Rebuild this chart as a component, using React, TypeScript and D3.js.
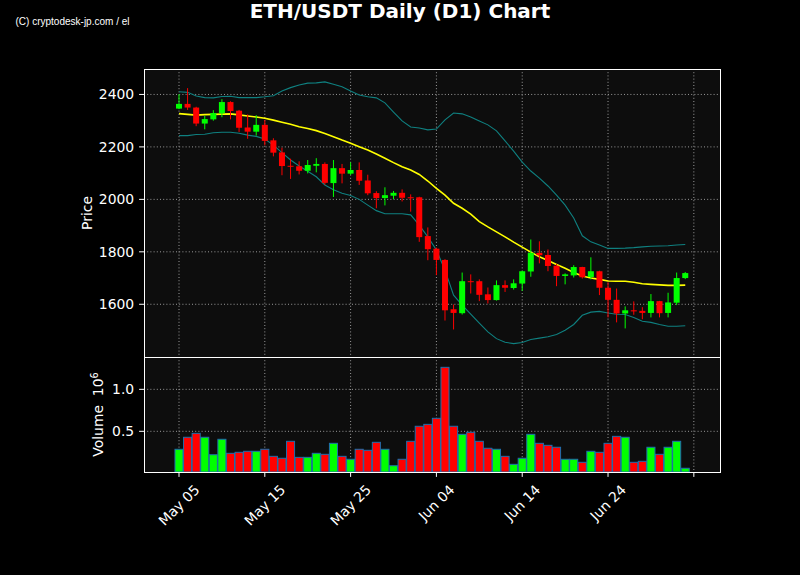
import { useEffect, useRef } from 'react';
import * as d3 from 'd3';

// 일봉 데이터 (May 05 부터 60일)
const opens = [2346, 2364, 2350, 2289, 2305, 2328, 2371, 2338, 2274, 2258, 2284, 2225, 2179, 2128, 2126, 2109, 2128, 2135, 2062, 2119, 2098, 2112, 2072, 2024, 2005, 2014, 2025, 2008, 2008, 1860, 1812, 1769, 1581, 1566, 1688, 1688, 1638, 1616, 1673, 1662, 1679, 1725, 1796, 1788, 1747, 1708, 1710, 1742, 1704, 1726, 1663, 1617, 1565, 1577, 1575, 1567, 1612, 1567, 1606, 1700];
const highs = [2401, 2424, 2353, 2318, 2340, 2382, 2374, 2341, 2324, 2321, 2303, 2233, 2197, 2155, 2145, 2150, 2157, 2141, 2150, 2135, 2141, 2141, 2094, 2031, 2046, 2032, 2038, 2019, 2010, 1893, 1816, 1772, 1599, 1721, 1714, 1695, 1664, 1691, 1691, 1695, 1728, 1847, 1840, 1809, 1754, 1718, 1749, 1743, 1779, 1728, 1684, 1660, 1592, 1611, 1589, 1639, 1613, 1644, 1721, 1723];
const lows = [2344, 2341, 2279, 2267, 2300, 2313, 2305, 2257, 2231, 2243, 2206, 2164, 2092, 2078, 2095, 2099, 2103, 2056, 2009, 2061, 2093, 2055, 2016, 1966, 1977, 2001, 1992, 1953, 1838, 1768, 1711, 1538, 1504, 1561, 1641, 1612, 1603, 1614, 1647, 1656, 1651, 1705, 1756, 1726, 1669, 1676, 1702, 1698, 1695, 1635, 1550, 1531, 1508, 1560, 1543, 1550, 1550, 1550, 1597, 1696];
const closes = [2364, 2350, 2289, 2306, 2329, 2371, 2337, 2273, 2258, 2284, 2223, 2178, 2127, 2125, 2109, 2131, 2135, 2063, 2119, 2098, 2112, 2071, 2023, 2005, 2016, 2025, 2006, 2005, 1856, 1810, 1769, 1577, 1567, 1688, 1686, 1636, 1616, 1673, 1663, 1680, 1726, 1796, 1787, 1746, 1708, 1714, 1742, 1703, 1726, 1663, 1617, 1565, 1577, 1573, 1567, 1612, 1566, 1607, 1700, 1719];
const volumes = [286000, 429000, 476000, 429000, 221000, 405000, 238000, 250000, 262000, 262000, 286000, 202000, 179000, 381000, 190000, 190000, 238000, 226000, 357000, 202000, 167000, 286000, 274000, 369000, 286000, 90000, 167000, 381000, 560000, 583000, 655000, 1262000, 560000, 464000, 488000, 381000, 298000, 286000, 202000, 107000, 179000, 464000, 357000, 333000, 310000, 167000, 167000, 131000, 262000, 250000, 357000, 440000, 429000, 131000, 143000, 310000, 226000, 310000, 381000, 60000];

// 이동평균 / 볼린저 밴드
const maLine = [2327, 2324, 2321, 2323, 2324, 2325, 2326, 2322, 2318, 2314, 2309, 2302, 2294, 2286, 2277, 2270, 2262, 2251, 2239, 2226, 2214, 2201, 2188, 2173, 2157, 2140, 2124, 2112, 2095, 2070, 2042, 2016, 1985, 1966, 1944, 1915, 1895, 1876, 1857, 1837, 1818, 1799, 1781, 1767, 1752, 1737, 1721, 1708, 1700, 1695, 1689, 1688, 1688, 1684, 1678, 1676, 1674, 1672, 1672, 1673];
const bandUpper = [2410, 2408, 2394, 2388, 2387, 2392, 2393, 2388, 2388, 2388, 2391, 2395, 2413, 2426, 2436, 2443, 2444, 2448, 2439, 2429, 2413, 2398, 2391, 2387, 2368, 2333, 2299, 2276, 2272, 2265, 2268, 2303, 2329, 2326, 2314, 2299, 2284, 2261, 2223, 2184, 2142, 2108, 2081, 2051, 2016, 1978, 1929, 1861, 1838, 1826, 1813, 1813, 1814, 1816, 1819, 1821, 1822, 1823, 1826, 1828];
const bandLower = [2243, 2243, 2247, 2248, 2254, 2256, 2256, 2252, 2245, 2240, 2230, 2207, 2178, 2150, 2127, 2107, 2086, 2055, 2037, 2023, 2015, 2000, 1978, 1957, 1945, 1945, 1945, 1941, 1902, 1857, 1807, 1730, 1635, 1597, 1562, 1528, 1495, 1469, 1455, 1450, 1454, 1466, 1471, 1476, 1485, 1501, 1523, 1558, 1570, 1573, 1567, 1562, 1561, 1550, 1535, 1531, 1523, 1516, 1516, 1518];

const priceTicks = [1600, 1800, 2000, 2200, 2400];
const volumeTicks = [500000, 1000000];
const xTickDays = [0, 10, 20, 30, 40, 50, 60];
const xTickLabels = ['May 05', 'May 15', 'May 25', 'Jun 04', 'Jun 14', 'Jun 24', ''];

export default function App() {
  const svgRef = useRef<SVGSVGElement>(null);

  useEffect(() => {
    if (!svgRef.current) return;
    const svg = d3.select(svgRef.current);
    svg.selectAll('*').remove();

    const width = 800;
    const height = 575;
    const left = 144, right = 720;
    const mainTop = 69, mainBottom = 357, volBottom = 472;
    const font = 'DejaVu Sans, sans-serif';
    const green = '#00ff00';
    const red = '#ff0000';
    const gridColor = '#9a9a9a';

    svg.attr('width', width).attr('height', height);
    svg.append('rect').attr('width', width).attr('height', height).attr('fill', '#000');

    const x = d3.scaleLinear().domain([-4.08, 63.05]).range([left, right]);
    const y = d3.scaleLinear().domain([1399, 2497]).range([mainBottom, mainTop]);
    const yv = d3.scaleLinear().domain([15500, 1385000]).range([volBottom, mainBottom]);
    const step = x(1) - x(0);

    // 패널 배경
    svg.append('rect').attr('x', left).attr('y', mainTop)
      .attr('width', right - left).attr('height', mainBottom - mainTop).attr('fill', '#0d0d0d');
    svg.append('rect').attr('x', left).attr('y', mainBottom)
      .attr('width', right - left).attr('height', volBottom - mainBottom).attr('fill', '#0d0d0d');

    // 그리드
    const grid = svg.append('g').attr('stroke', gridColor).attr('stroke-width', 1)
      .attr('stroke-dasharray', '1,2.2');
    xTickDays.forEach(d => {
      grid.append('line').attr('x1', x(d)).attr('x2', x(d)).attr('y1', mainTop).attr('y2', volBottom);
    });
    priceTicks.forEach(p => {
      grid.append('line').attr('x1', left).attr('x2', right).attr('y1', y(p)).attr('y2', y(p));
    });
    volumeTicks.forEach(v => {
      grid.append('line').attr('x1', left).attr('x2', right).attr('y1', yv(v)).attr('y2', yv(v));
    });

    const idx = d3.range(opens.length);

    // 밴드 / 이동평균
    const line = (vals: number[]) => d3.line<number>().x(i => x(i)).y(i => y(vals[i]))(idx);
    svg.append('path').attr('d', line(bandUpper)).attr('fill', 'none').attr('stroke', '#0f8080').attr('stroke-width', 1.1);
    svg.append('path').attr('d', line(bandLower)).attr('fill', 'none').attr('stroke', '#0f8080').attr('stroke-width', 1.1);
    svg.append('path').attr('d', line(maLine)).attr('fill', 'none').attr('stroke', '#ffff00').attr('stroke-width', 1.6);

    // 캔들
    const bodyW = step * 0.7;
    const candles = svg.append('g');
    idx.forEach(i => {
      const up = closes[i] >= opens[i];
      const col = up ? green : red;
      candles.append('line')
        .attr('x1', x(i)).attr('x2', x(i))
        .attr('y1', y(highs[i])).attr('y2', y(lows[i]))
        .attr('stroke', col).attr('stroke-width', 1);
      const top = y(Math.max(opens[i], closes[i]));
      const bot = y(Math.min(opens[i], closes[i]));
      candles.append('rect')
        .attr('x', x(i) - bodyW / 2).attr('y', top)
        .attr('width', bodyW).attr('height', Math.max(bot - top, 1))
        .attr('fill', col);
    });

    // 거래량
    const barW = step * 0.94;
    idx.forEach(i => {
      const up = closes[i] >= opens[i];
      svg.append('rect')
        .attr('x', x(i) - barW / 2).attr('y', yv(volumes[i]))
        .attr('width', barW).attr('height', volBottom - yv(volumes[i]))
        .attr('fill', up ? green : red)
        .attr('stroke', '#1f6fae').attr('stroke-width', 1);
    });

    // 테두리
    const spine = svg.append('g').attr('fill', 'none').attr('stroke', '#fff').attr('stroke-width', 1)
      .attr('shape-rendering', 'crispEdges');
    spine.append('rect').attr('x', left).attr('y', mainTop).attr('width', right - left).attr('height', mainBottom - mainTop);
    spine.append('rect').attr('x', left).attr('y', mainBottom).attr('width', right - left).attr('height', volBottom - mainBottom);

    // Y 축 눈금
    const tickLen = 4.9;
    const labels = svg.append('g').attr('fill', '#fff').attr('font-family', font).attr('font-size', 13.9);
    priceTicks.forEach(p => {
      svg.append('line').attr('x1', left - tickLen).attr('x2', left).attr('y1', y(p)).attr('y2', y(p)).attr('stroke', '#fff');
      labels.append('text').attr('x', left - tickLen - 4.9).attr('y', y(p)).attr('dy', '0.36em')
        .attr('text-anchor', 'end').text(String(p));
    });
    volumeTicks.forEach(v => {
      svg.append('line').attr('x1', left - tickLen).attr('x2', left).attr('y1', yv(v)).attr('y2', yv(v)).attr('stroke', '#fff');
      labels.append('text').attr('x', left - tickLen - 4.9).attr('y', yv(v)).attr('dy', '0.36em')
        .attr('text-anchor', 'end').text((v / 1e6).toFixed(1));
    });

    // X 축 눈금
    xTickDays.forEach((d, k) => {
      svg.append('line').attr('x1', x(d)).attr('x2', x(d)).attr('y1', volBottom).attr('y2', volBottom + tickLen).attr('stroke', '#fff');
      if (!xTickLabels[k]) return;
      const t = labels.append('text').attr('text-anchor', 'middle').attr('dominant-baseline', 'central')
        .text(xTickLabels[k]);
      const len = (t.node() as SVGTextElement).getComputedTextLength();
      const cy = volBottom + tickLen + 4.9 + (len + 15) * 0.7071 / 2;
      t.attr('x', x(d)).attr('y', cy).attr('transform', `rotate(-45,${x(d)},${cy})`);
    });

    // 축 레이블
    labels.append('text').attr('transform', `translate(92,${(mainTop + mainBottom) / 2}) rotate(-90)`)
      .attr('text-anchor', 'middle').text('Price');
    const vl = labels.append('text').attr('transform', `translate(102.5,${(mainBottom + volBottom) / 2}) rotate(-90)`)
      .attr('text-anchor', 'middle');
    vl.append('tspan').text('Volume\u00a0\u00a010');
    vl.append('tspan').attr('dy', '-0.45em').attr('font-size', 9.7).text('6');

    // 제목
    svg.append('text').attr('x', 400).attr('y', 18).attr('text-anchor', 'middle')
      .attr('fill', '#fff').attr('font-family', font).attr('font-size', 20).attr('font-weight', 700)
      .text('ETH/USDT Daily (D1) Chart');
    svg.append('text').attr('x', 15.5).attr('y', 24.5).attr('fill', '#fff')
      .attr('font-family', 'Liberation Sans, sans-serif').attr('font-size', 10.5)
      .attr('textLength', 114).attr('lengthAdjust', 'spacingAndGlyphs')
      .text('(C) cryptodesk-jp.com / el');
  }, []);

  return (
    <svg ref={svgRef} style={{ position: 'absolute', left: 0, top: 0, display: 'block' }}></svg>
  );
}
